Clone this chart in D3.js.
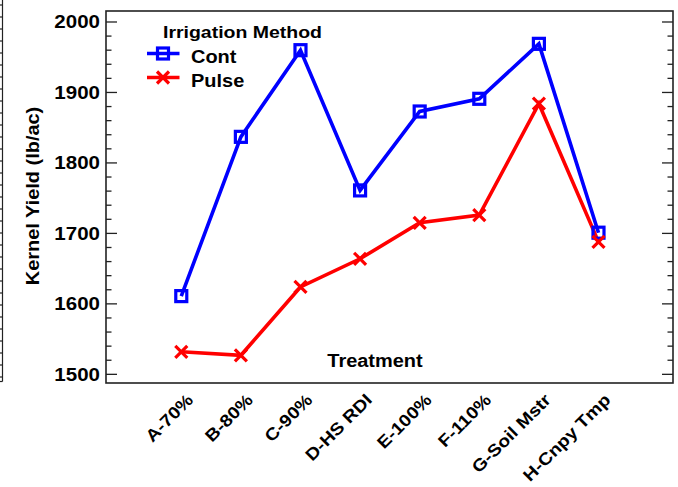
<!DOCTYPE html>
<html>
<head>
<meta charset="utf-8">
<script src="https://cdn.jsdelivr.net/npm/d3@7"></script>
<style>
  html, body { margin: 0; padding: 0; background: #fff; }
  svg { display: block; }
  text { font-family: "Liberation Sans", Arial, sans-serif; font-weight: bold; fill: #000; }
</style>
</head>
<body>
<svg id="chart" width="678" height="487"></svg>
<script>
// ---- data ----
const categories = ["A-70%", "B-80%", "C-90%", "D-HS RDI", "E-100%", "F-110%", "G-Soil Mstr", "H-Cnpy Tmp"];
const contValues = [1611, 1837, 1960, 1761, 1873, 1891, 1969, 1701];
const pulseValues = [1532, 1527, 1624, 1664, 1715, 1726, 1884, 1688];
const seriesNames = ["Cont", "Pulse"];
const yTickValues = [1500, 1600, 1700, 1800, 1900, 2000];
const legendTitle = "Irrigation Method";
const xTitle = "Treatment";
const yTitle = "Kernel Yield (lb/ac)";

function stretch(sel, target) {
  sel.each(function () {
    const w = this.getComputedTextLength();
    d3.select(this).attr("textLength", target ? target : w * 1.14).attr("lengthAdjust", "spacingAndGlyphs");
  });
}

const svg = d3.select("#chart");
const L = 106, R = 673, T = 11, B = 383;

const x = d3.scaleLinear().domain([-1.263, 8.25]).range([L, R]);
const y = d3.scaleLinear().domain([1487.7, 2015.6]).range([B, T]);

// partial neighbouring axis at left edge
const yEdge = d3.scaleLinear().domain([0, 31]).range([5, 377]);
const edge = svg.append("g").attr("stroke", "#222").attr("stroke-width", 1.2);
edge.append("line").attr("x1", 2.5).attr("x2", 2.5).attr("y1", 0).attr("y2", 381.5);
edge.append("line").attr("x1", 0).attr("x2", 2.5).attr("y1", 381.5).attr("y2", 381.5);
edge.selectAll("line.t").data(d3.range(0, 32)).enter().append("line")
  .attr("class", "t").attr("x1", 0).attr("x2", 2.5)
  .attr("y1", d => yEdge(d)).attr("y2", d => yEdge(d));

// frame
svg.append("rect").attr("x", L).attr("y", T).attr("width", R - L).attr("height", B - T)
  .attr("fill", "none").attr("stroke", "#222").attr("stroke-width", 1.6);

// ticks (inward) left and right
const minor = d3.range(1500, 2001, 20);
const ticksG = svg.append("g").attr("stroke", "#222").attr("stroke-width", 1.3);
minor.forEach(v => {
  const isMajor = v % 100 === 0;
  const len = isMajor ? 11 : 5.5;
  ticksG.append("line").attr("x1", L).attr("x2", L + len).attr("y1", y(v)).attr("y2", y(v));
  ticksG.append("line").attr("x1", R - len).attr("x2", R).attr("y1", y(v)).attr("y2", y(v));
});

// y tick labels
svg.append("g").selectAll("text").data(yTickValues).enter().append("text")
  .attr("x", L - 6).attr("y", d => y(d)).attr("dy", "0.36em")
  .attr("text-anchor", "end").style("font-size", "18px")
  .text(d => d).call(stretch);

// x tick labels rotated
svg.append("g").selectAll("text").data(categories).enter().append("text")
  .attr("transform", (d, i) => `translate(${x(i) + 13},${401}) rotate(-45)`)
  .attr("text-anchor", "end").style("font-size", "17px")
  .text(d => d).call(stretch);

// axis titles
svg.append("text").attr("x", 375).attr("y", 367).attr("text-anchor", "middle")
  .style("font-size", "17.5px").text(xTitle).call(stretch);
svg.append("text").attr("transform", "translate(39,196) rotate(-90)")
  .attr("text-anchor", "middle").style("font-size", "17.5px").text(yTitle).call(stretch);

// lines
const line = d3.line().x((d, i) => x(i)).y(d => y(d));
const colors = ["#0000ff", "#ff0000"];
const data = [contValues, pulseValues];

data.forEach((vals, s) => {
  svg.append("path").datum(vals).attr("d", line)
    .attr("fill", "none").attr("stroke", colors[s]).attr("stroke-width", 3.6)
    .attr("stroke-linejoin", "miter");
});

function squareMarker(g, cx, cy, color) {
  g.append("rect").attr("x", cx - 5.5).attr("y", cy - 5.5).attr("width", 11).attr("height", 11)
    .attr("fill", "none").attr("stroke", color).attr("stroke-width", 3.2);
}
function crossMarker(g, cx, cy, color) {
  const h = 6;
  g.append("path").attr("d", `M${cx - h},${cy - h}L${cx + h},${cy + h}M${cx - h},${cy + h}L${cx + h},${cy - h}`)
    .attr("stroke", color).attr("stroke-width", 3.2).attr("fill", "none");
}

const mg = svg.append("g");
contValues.forEach((v, i) => squareMarker(mg, x(i), y(v), colors[0]));
pulseValues.forEach((v, i) => crossMarker(mg, x(i), y(v), colors[1]));

// legend
const lg = svg.append("g");
lg.append("text").attr("x", 163).attr("y", 38).style("font-size", "17px").text(legendTitle).call(stretch, 159);
const legendY = [53.5, 77.5];
seriesNames.forEach((name, s) => {
  lg.append("line").attr("x1", 147).attr("x2", 179.5).attr("y1", legendY[s]).attr("y2", legendY[s])
    .attr("stroke", colors[s]).attr("stroke-width", 3.6);
  if (s === 0) squareMarker(lg, 163, legendY[s], colors[s]);
  else crossMarker(lg, 163, legendY[s], colors[s]);
  lg.append("text").attr("x", 191).attr("y", legendY[s] + 9.5).style("font-size", "17.5px")
    .text(name).call(stretch);
});
</script>
</body>
</html>
